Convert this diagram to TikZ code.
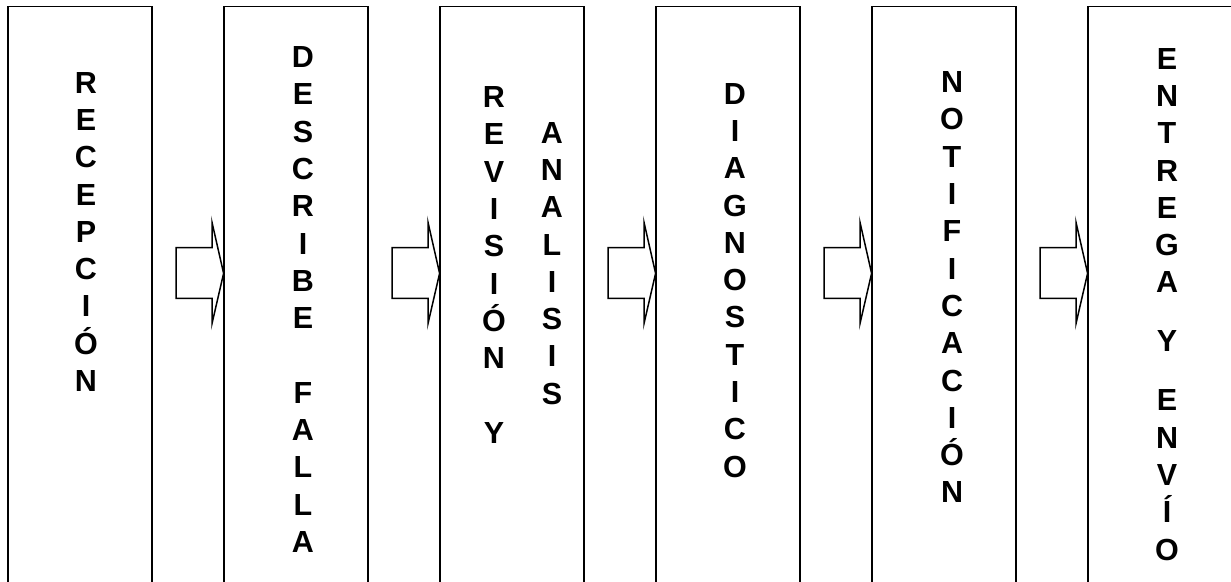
\documentclass[tikz,border=0pt]{standalone}
\usepackage{fontspec}
\setmainfont{Liberation Sans}
\newfontfamily\negrita{Liberation Sans Bold}
\usetikzlibrary{positioning}

\begin{document}
\begin{tikzpicture}[
x=1pt, y=-1pt,
etapa/.style={draw, line width=1.8pt, rectangle, minimum width=144pt, minimum height=640pt, anchor=north, inner sep=0pt, outer sep=0pt},
letras/.style={anchor=north, align=center, inner sep=0pt, font=\negrita\fontsize{30.5}{37.3}\selectfont},
flecha/.style={draw, line width=1.5pt, fill=white, line join=miter}
]
\useasboundingbox (0,0) rectangle (1231,581);
\clip (0,0) rectangle (1231,581);
\node[etapa] (recep) at (79.6,6.5) {};
\node[etapa, right=72pt of recep] (falla) {};
\node[etapa, right=72pt of falla] (revis) {};
\node[etapa, right=72pt of revis] (diag) {};
\node[etapa, right=72pt of diag] (notif) {};
\node[etapa, right=72pt of notif] (entrega) {};
\coordinate (eje) at (0,273.3);
\foreach \a/\b in {recep/falla, falla/revis, revis/diag, diag/notif, notif/entrega}
  \draw[flecha] (\b.west |- eje) -- ++(-11.6,-51) -- ++(0,25.3) -- ++(-36,0) -- ++(0,50.7) -- ++(36,0) -- ++(0,25.3) -- cycle;
\node[letras] (t1) at (86,72) {R\\E\\C\\E\\P\\C\\I\\Ó\\N};
\node[letras] (t2) at (303,46.5) {D\\E\\S\\C\\R\\I\\B\\E\\~\\F\\A\\L\\L\\A};
\node[letras] (t3) at (494,86.5) {R\\E\\V\\I\\S\\I\\Ó\\N\\~\\Y};
\node[letras] (t4) at (552,122) {A\\N\\A\\L\\I\\S\\I\\S};
\node[letras] (t5) at (735,83) {D\\I\\A\\G\\N\\O\\S\\T\\I\\C\\O};
\node[letras] (t6) at (952,71.5) {N\\O\\T\\I\\F\\I\\C\\A\\C\\I\\Ó\\N};
\node[letras] (t7) at (1167,48) {E\\N\\T\\R\\E\\G\\A\\[-7.8pt]~\\[-7.8pt]Y\\[-7.8pt]~\\[-7.8pt]E\\N\\V\\Í\\O};
\end{tikzpicture}
\end{document}
